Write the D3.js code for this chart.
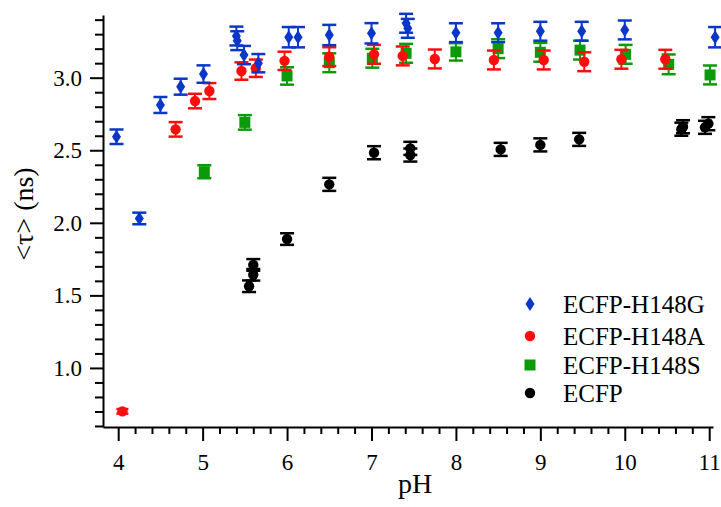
<!DOCTYPE html>
<html>
<head>
<meta charset="utf-8">
<script src="https://cdn.jsdelivr.net/npm/d3@7"></script>
<style>
html,body{margin:0;padding:0;background:#fff;}
svg{display:block;}
</style>
</head>
<body>
<svg id="chart" width="721" height="507"></svg>
<script>
// ---- data ----
const seriesNames = ["ECFP-H148G", "ECFP-H148A", "ECFP-H148S", "ECFP"];

const phG  = [3.98, 4.25, 4.50, 4.74, 5.01, 5.40, 5.41, 5.49, 5.66, 6.02, 6.13, 6.50, 7.00, 7.41, 7.43, 8.00, 8.50, 9.00, 9.49, 10.00, 11.07];
const tauG = [2.593, 2.030, 2.812, 2.938, 3.025, 3.287, 3.255, 3.156, 3.100, 3.279, 3.279, 3.294, 3.306, 3.375, 3.340, 3.310, 3.310, 3.320, 3.320, 3.329, 3.279];
const errG = [0.050, 0.040, 0.055, 0.055, 0.060, 0.065, 0.065, 0.063, 0.063, 0.070, 0.070, 0.070, 0.070, 0.065, 0.065, 0.065, 0.065, 0.065, 0.065, 0.065, 0.070];

const phA  = [4.05, 4.68, 4.91, 5.08, 5.46, 5.63, 5.97, 6.50, 7.03, 7.37, 7.75, 8.45, 9.04, 9.52, 9.96, 10.48];
const tauA = [0.701, 2.644, 2.839, 2.908, 3.046, 3.065, 3.116, 3.145, 3.161, 3.150, 3.129, 3.122, 3.122, 3.110, 3.127, 3.127];
const errA = [0.016, 0.050, 0.050, 0.055, 0.060, 0.060, 0.063, 0.065, 0.065, 0.065, 0.065, 0.065, 0.065, 0.065, 0.065, 0.065];

const phS  = [5.02, 5.50, 6.00, 6.50, 7.01, 7.41, 8.00, 8.50, 9.00, 9.47, 10.01, 10.52, 11.01];
const tauS = [2.352, 2.692, 3.012, 3.103, 3.134, 3.168, 3.178, 3.200, 3.175, 3.190, 3.161, 3.092, 3.019];
const errS = [0.045, 0.050, 0.060, 0.065, 0.065, 0.065, 0.060, 0.065, 0.065, 0.065, 0.065, 0.068, 0.065];

const phE  = [5.55, 5.60, 5.60, 6.00, 6.50, 7.03, 7.46, 7.46, 8.53, 9.00, 9.46, 10.67, 10.69, 10.95, 10.99];
const tauE = [1.563, 1.642, 1.710, 1.888, 2.265, 2.483, 2.467, 2.513, 2.506, 2.537, 2.575, 2.645, 2.662, 2.658, 2.683];
const errE = [0.040, 0.040, 0.040, 0.040, 0.045, 0.045, 0.045, 0.045, 0.045, 0.045, 0.045, 0.045, 0.045, 0.045, 0.045];

const xMajorTicks = [4, 5, 6, 7, 8, 9, 10, 11];
const yMajorTicks = [1.0, 1.5, 2.0, 2.5, 3.0];
const yTickLabels = ["1.0", "1.5", "2.0", "2.5", "3.0"];
const xTitle = "pH";
const yTitle = "<τ> (ns)";

// ---- layout ----
const FONT = "'Liberation Serif','Times New Roman',serif";
const svg = d3.select("#chart");
const x = d3.scaleLinear().domain([3.82, 11.045]).range([103, 713]);
const y = d3.scaleLinear().domain([0.593, 3.432]).range([427, 15]);

const colors = {"ECFP-H148G": "#0a37c8", "ECFP-H148A": "#ff0d0d", "ECFP-H148S": "#0a9a0a", "ECFP": "#000000"};
const shapes = {"ECFP-H148G": "diamond", "ECFP-H148A": "circle", "ECFP-H148S": "square", "ECFP": "circle"};

const xMinor = d3.range(3.8, 11.05, 0.2).map(v => +v.toFixed(1)).filter(v => v >= 3.82 && v <= 11.045 && !xMajorTicks.includes(v));
const yMinor = d3.range(0.6, 3.45, 0.1).map(v => +v.toFixed(1)).filter(v => v >= 0.6 && v <= 3.432 && !yMajorTicks.some(m => Math.abs(m - v) < 1e-6));

// axes
const gx = svg.append("g").attr("transform", "translate(0,427)");
gx.call(d3.axisBottom(x).tickValues(xMinor).tickSize(7).tickSizeOuter(0).tickFormat(""));
gx.append("g").call(d3.axisBottom(x).tickValues(xMajorTicks).tickSize(14).tickSizeOuter(0).tickFormat(d3.format("d")))
  .call(g => g.select(".domain").remove());
gx.selectAll("path,line").attr("stroke", "#000").attr("stroke-width", 2);
gx.selectAll("text").attr("font-family", FONT).attr("font-size", 23).attr("fill", "#000").attr("y", 27).attr("dy", "0.71em");

const gy = svg.append("g").attr("transform", "translate(103,0)");
gy.call(d3.axisLeft(y).tickValues(yMinor).tickSize(8).tickSizeOuter(0).tickFormat(""));
gy.append("g").call(d3.axisLeft(y).tickValues(yMajorTicks).tickSize(13).tickSizeOuter(0).tickFormat((d, i) => yTickLabels[i]))
  .call(g => g.select(".domain").remove());
gy.selectAll("path,line").attr("stroke", "#000").attr("stroke-width", 2);
gy.selectAll("text").attr("font-family", FONT).attr("font-size", 23).attr("fill", "#000").attr("x", -21);

// titles
svg.append("text").attr("x", 415).attr("y", 493).attr("text-anchor", "middle")
  .attr("font-family", FONT).attr("font-size", 28).text(xTitle);
svg.append("text").attr("transform", "translate(33,214) rotate(-90)").attr("text-anchor", "middle")
  .attr("font-family", FONT).attr("font-size", 28).text(yTitle);

// markers
function drawMarker(g, shape, cx, cy, color) {
  if (shape === "diamond") {
    g.append("path").attr("d", `M${cx},${cy-7}L${cx+4.5},${cy}L${cx},${cy+7}L${cx-4.5},${cy}Z`).attr("fill", color);
  } else if (shape === "square") {
    g.append("rect").attr("x", cx-5.5).attr("y", cy-5.5).attr("width", 11).attr("height", 11).attr("fill", color);
  } else {
    g.append("circle").attr("cx", cx).attr("cy", cy).attr("r", 5.2).attr("fill", color);
  }
}

const series = [
  {name: "ECFP", ph: phE, tau: tauE, err: errE},
  {name: "ECFP-H148S", ph: phS, tau: tauS, err: errS},
  {name: "ECFP-H148A", ph: phA, tau: tauA, err: errA},
  {name: "ECFP-H148G", ph: phG, tau: tauG, err: errG}
];

series.forEach(s => {
  const g = svg.append("g");
  const c = colors[s.name];
  s.ph.forEach((p, i) => {
    const cx = x(p), yt = y(s.tau[i] + s.err[i]), yb = y(s.tau[i] - s.err[i]);
    const hw = s.err[i] < 0.02 ? 6 : 7;
    g.append("line").attr("x1", cx).attr("x2", cx).attr("y1", yt).attr("y2", yb).attr("stroke", c).attr("stroke-width", 2);
    g.append("line").attr("x1", cx-hw).attr("x2", cx+hw).attr("y1", yt).attr("y2", yt).attr("stroke", c).attr("stroke-width", 2.5);
    g.append("line").attr("x1", cx-hw).attr("x2", cx+hw).attr("y1", yb).attr("y2", yb).attr("stroke", c).attr("stroke-width", 2.5);
    drawMarker(g, shapes[s.name], cx, y(s.tau[i]), c);
  });
});

// legend
const legY = [304, 336, 365, 393];
const leg = svg.append("g");
seriesNames.forEach((n, i) => {
  drawMarker(leg, shapes[n], 530, legY[i], colors[n]);
  leg.append("text").attr("x", 563).attr("y", legY[i] + 8.5).attr("font-family", FONT).attr("font-size", 25).attr("fill", "#000").text(n);
});
</script>
</body>
</html>
